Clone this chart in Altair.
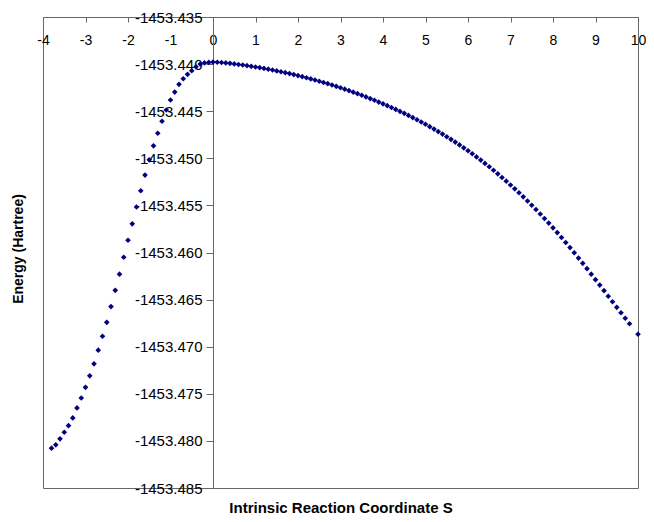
import altair as alt
import pandas as pd

# Reaction coordinate S (left branch, reverse direction)
s_left = [-3.8, -3.7, -3.6, -3.5, -3.4, -3.3, -3.2, -3.1, -3.0, -2.9,
          -2.8, -2.7, -2.6, -2.5, -2.4, -2.3, -2.2, -2.1, -2.0, -1.9,
          -1.8, -1.7, -1.6, -1.5, -1.4, -1.3, -1.2, -1.1, -1.0, -0.9,
          -0.8, -0.7, -0.6, -0.5, -0.4, -0.3, -0.2, -0.1]
e_left = [-1453.48077, -1453.48042, -1453.47978, -1453.47908, -1453.47838,
          -1453.47756, -1453.47650, -1453.47545, -1453.47431, -1453.47309,
          -1453.47182, -1453.47037, -1453.46889, -1453.46741, -1453.46574,
          -1453.46402, -1453.46230, -1453.46050, -1453.45870, -1453.45696,
          -1453.45517, -1453.45344, -1453.45178, -1453.45016, -1453.44868,
          -1453.44734, -1453.44607, -1453.44487, -1453.44381, -1453.44297,
          -1453.44215, -1453.44156, -1453.44109, -1453.44071, -1453.44029,
          -1453.44000, -1453.43987, -1453.43982]

# Right branch, forward direction
s_right = [0.0, 0.1, 0.2, 0.3, 0.4, 0.5, 0.6, 0.7, 0.8, 0.9,
           1.0, 1.1, 1.2, 1.3, 1.4, 1.5, 1.6, 1.7, 1.8, 1.9,
           2.0, 2.1, 2.2, 2.3, 2.4, 2.5, 2.6, 2.7, 2.8, 2.9,
           3.0, 3.1, 3.2, 3.3, 3.4, 3.5, 3.6, 3.7, 3.8, 3.9,
           4.0, 4.1, 4.2, 4.3, 4.4, 4.5, 4.6, 4.7, 4.8, 4.9,
           5.0, 5.1, 5.2, 5.3, 5.4, 5.5, 5.6, 5.7, 5.8, 5.9,
           6.0, 6.1, 6.2, 6.3, 6.4, 6.5, 6.6, 6.7, 6.8, 6.9,
           7.0, 7.1, 7.2, 7.3, 7.4, 7.5, 7.6, 7.7, 7.8, 7.9,
           8.0, 8.1, 8.2, 8.3, 8.4, 8.5, 8.6, 8.7, 8.8, 8.9,
           9.0, 9.1, 9.2, 9.3, 9.4, 9.5, 9.6, 9.7, 9.8, 10.0]
e_right = [-1453.43979, -1453.43980, -1453.43983, -1453.43987, -1453.43992,
           -1453.43998, -1453.44004, -1453.44010, -1453.44017, -1453.44024,
           -1453.44031, -1453.44038, -1453.44046, -1453.44054, -1453.44063,
           -1453.44072, -1453.44081, -1453.44091, -1453.44101, -1453.44111,
           -1453.44122, -1453.44133, -1453.44145, -1453.44157, -1453.44169,
           -1453.44182, -1453.44195, -1453.44208, -1453.44222, -1453.44236,
           -1453.44251, -1453.44266, -1453.44282, -1453.44298, -1453.44314,
           -1453.44331, -1453.44348, -1453.44366, -1453.44384, -1453.44403,
           -1453.44422, -1453.44441, -1453.44461, -1453.44481, -1453.44502,
           -1453.44523, -1453.44545, -1453.44568, -1453.44591, -1453.44615,
           -1453.44639, -1453.44664, -1453.44690, -1453.44716, -1453.44743,
           -1453.44771, -1453.44799, -1453.44828, -1453.44858, -1453.44889,
           -1453.44920, -1453.44952, -1453.44985, -1453.45019, -1453.45054,
           -1453.45090, -1453.45127, -1453.45165, -1453.45204, -1453.45243,
           -1453.45283, -1453.45324, -1453.45366, -1453.45409, -1453.45453,
           -1453.45498, -1453.45544, -1453.45591, -1453.45639, -1453.45688,
           -1453.45738, -1453.45789, -1453.45841, -1453.45894, -1453.45948,
           -1453.46003, -1453.46059, -1453.46115, -1453.46172, -1453.46230,
           -1453.46288, -1453.46346, -1453.46405, -1453.46464, -1453.46523,
           -1453.46582, -1453.46640, -1453.46698, -1453.46756, -1453.46868]

x_ticks = [-4, -3, -2, -1, 0, 1, 2, 3, 4, 5, 6, 7, 8, 9, 10]
y_ticks = [-1453.485, -1453.480, -1453.475, -1453.470, -1453.465, -1453.460,
           -1453.455, -1453.450, -1453.445, -1453.440, -1453.435]

df = pd.DataFrame({"s": s_left + s_right, "energy": e_left + e_right})

# layout (svg must fit 638 x 506 so that the page does not overflow)
PAD = {"left": 35, "top": 9, "right": 8, "bottom": 26}
W, H = 595, 471
x_dom = [-4, 10]
y_dom = [-1453.485, -1453.435]
zero_px = W * (0 - x_dom[0]) / (x_dom[1] - x_dom[0])
y_axis_offset = -zero_px
y_title_x = (10 - PAD["left"]) - zero_px   # title centre ~10px from svg left
x_title_y = 495

FONT = "Liberation Sans, Arial, sans-serif"
AXIS_GRAY = "#666666"

chart = alt.Chart(df).mark_point(
    shape="diamond", filled=True, size=32, color="#000080", opacity=1
).encode(
    x=alt.X(
        "s:Q",
        scale=alt.Scale(domain=x_dom, nice=False, zero=False),
        axis=alt.Axis(
            orient="bottom", offset=-H, values=x_ticks, domain=False,
            tickSize=5, tickColor=AXIS_GRAY, labelPadding=11,
            labelFlush=False, labelOverlap=False, labelFontSize=14,
            labelFont=FONT, labelColor="black",
            labelExpr="replace(format(datum.value, 'd'), '\u2212', '-')",
            title="Intrinsic Reaction Coordinate S", titleY=x_title_y,
            titleBaseline="alphabetic", titleFontSize=15,
            titleFontWeight="bold", titleFont=FONT, titleColor="black",
            grid=False,
        ),
    ),
    y=alt.Y(
        "energy:Q",
        scale=alt.Scale(domain=y_dom, nice=False, zero=False),
        axis=alt.Axis(
            orient="left", offset=y_axis_offset, values=y_ticks,
            domainColor=AXIS_GRAY, tickSize=7, tickColor=AXIS_GRAY,
            labelPadding=4, labelFlush=False, labelOverlap=False,
            labelFontSize=15, labelFont=FONT, labelColor="black",
            labelExpr="replace(format(datum.value, '.3f'), '\u2212', '-')",
            title="Energy (Hartree)", titleX=y_title_x, titleY=H / 2 - 4,
            titleBaseline="middle", titleFontSize=14, titleFontWeight="bold",
            titleFont=FONT, titleColor="black", grid=False,
        ),
    ),
).properties(
    width=W, height=H,
    autosize=alt.AutoSizeParams(type="none"),
    padding=PAD,
).configure_view(
    stroke=AXIS_GRAY, strokeWidth=1
)

chart.save("out.html", embed_options={"renderer": "svg", "actions": False})
